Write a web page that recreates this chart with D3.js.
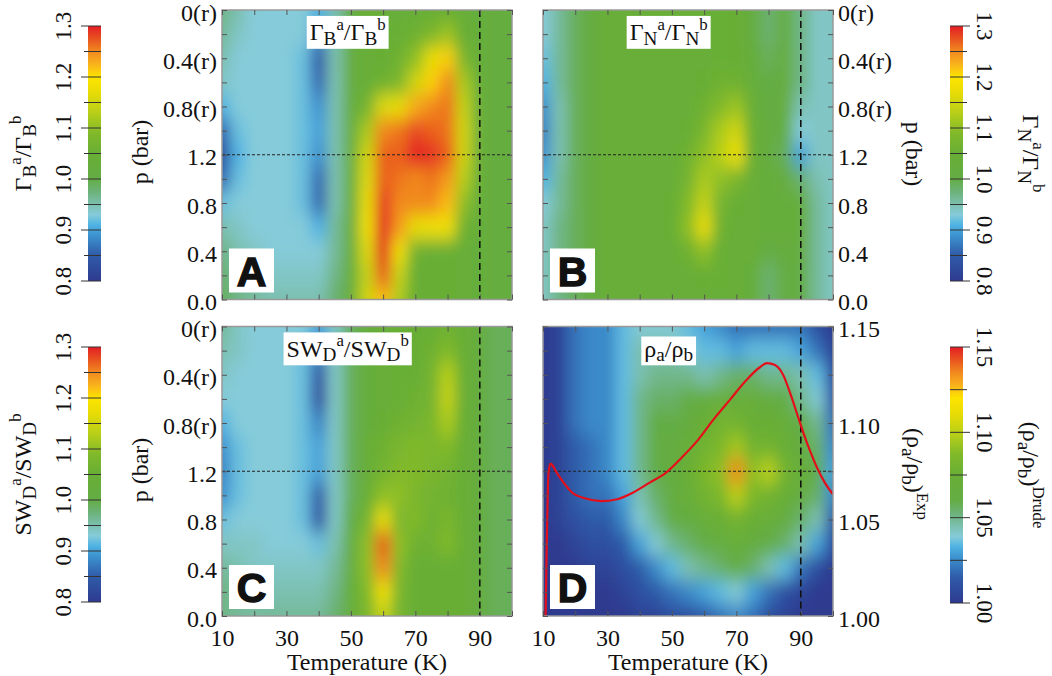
<!DOCTYPE html>
<html lang="en">
<head>
<meta charset="UTF-8">
<title>Ratio maps vs temperature and pressure</title>
<script src="https://d3js.org/d3.v7.min.js"></script>
<style>
  body { margin: 0; background: #fff; }
  svg { display: block; }
  text { font-family: "Liberation Serif", "Times New Roman", serif; fill: #111; }
</style>
</head>
<body>
<svg id="chart" width="1052" height="676"></svg>
<script>
// grid of the maps: temperature columns, pressure rows (top = 0(r), bottom = 0.0)
const temps = [10, 15, 20, 25, 30, 35, 40, 45, 50, 55, 60, 65, 70, 75, 80, 85, 90, 95, 100];
const pRows = [2.4, 2.2, 2.0, 1.8, 1.6, 1.4, 1.2, 1.0, 0.8, 0.6, 0.4, 0.2, 0.0];

const pTicksAll = [0, 0.2, 0.4, 0.6, 0.8, 1.0, 1.2, 1.4, 1.6, 1.8, 2.0, 2.2, 2.4];
const pTicks = [0, 0.4, 0.8, 1.2, 1.6, 2.0, 2.4];
const pTickLabels = ["0.0", "0.4", "0.8", "1.2", "0.8(r)", "0.4(r)", "0(r)"];
const tTicksAll = [10, 20, 30, 40, 50, 60, 70, 80, 90, 100];
const tTickLabels = [10, 30, 50, 70, 90];
const ratioTicks = [0.8, 0.85, 0.9, 0.95, 1.0, 1.05, 1.1, 1.15, 1.2, 1.25, 1.3];
const ratioLabels = ["0.8", "0.9", "1.0", "1.1", "1.2", "1.3"];
const rhoTicks = [1.0, 1.025, 1.05, 1.075, 1.1, 1.125, 1.15];
const rhoLabels = ["1.00", "1.05", "1.10", "1.15"];

// Γ_B^a / Γ_B^b
const gammaB = [
  [.97,.95,.93,.93,.93,.93,.91,.95,1.02,1.04,1.04,1.04,1.04,1.05,1.05,1.04,1.03,1.02,1.02],
  [.96,.94,.93,.93,.93,.93,.89,.95,1.02,1.04,1.04,1.05,1.06,1.08,1.11,1.05,1.03,1.02,1.02],
  [.95,.93,.93,.93,.93,.92,.85,.95,1.02,1.04,1.05,1.06,1.10,1.17,1.21,1.08,1.03,1.02,1.02],
  [.94,.93,.93,.93,.93,.92,.86,.95,1.02,1.04,1.06,1.08,1.15,1.21,1.25,1.12,1.03,1.02,1.02],
  [.91,.93,.93,.93,.93,.92,.89,.95,1.02,1.07,1.16,1.17,1.23,1.25,1.26,1.14,1.03,1.02,1.02],
  [.86,.92,.93,.93,.93,.92,.90,.95,1.02,1.12,1.25,1.26,1.28,1.27,1.26,1.15,1.03,1.02,1.02],
  [.83,.91,.93,.93,.93,.92,.89,.95,1.03,1.15,1.27,1.27,1.31,1.29,1.27,1.15,1.03,1.02,1.02],
  [.86,.92,.93,.93,.93,.92,.86,.95,1.03,1.16,1.27,1.26,1.25,1.26,1.24,1.13,1.03,1.02,1.02],
  [.92,.93,.93,.93,.93,.92,.86,.95,1.03,1.17,1.29,1.25,1.25,1.25,1.22,1.10,1.03,1.02,1.02],
  [.95,.94,.93,.93,.93,.93,.91,.96,1.03,1.18,1.31,1.24,1.17,1.18,1.18,1.06,1.03,1.02,1.02],
  [.97,.95,.94,.93,.93,.93,.93,.96,1.03,1.16,1.32,1.18,1.06,1.05,1.05,1.04,1.03,1.02,1.02],
  [.98,.96,.95,.94,.94,.94,.94,.97,1.03,1.14,1.27,1.14,1.05,1.05,1.05,1.04,1.03,1.02,1.02],
  [.99,.97,.96,.95,.95,.95,.95,.98,1.03,1.15,1.22,1.12,1.05,1.05,1.05,1.04,1.03,1.02,1.02]
];

// Γ_N^a / Γ_N^b
const gammaN = [
  [.93,.96,.99,1.02,1.04,1.04,1.04,1.04,1.04,1.04,1.04,1.05,1.05,1.02,.98,1.01,.97,.94,.94],
  [.93,.96,.99,1.02,1.04,1.04,1.04,1.04,1.04,1.04,1.04,1.05,1.05,1.02,.98,1.01,.97,.94,.94],
  [.92,.96,.99,1.02,1.04,1.04,1.04,1.04,1.04,1.04,1.04,1.05,1.05,1.03,.99,1.02,.97,.94,.94],
  [.91,.96,.99,1.02,1.04,1.04,1.04,1.04,1.04,1.04,1.05,1.06,1.06,1.03,1.00,1.02,.97,.94,.94],
  [.89,.95,.99,1.02,1.04,1.04,1.04,1.04,1.04,1.04,1.06,1.09,1.11,1.04,1.01,1.02,.95,.94,.94],
  [.88,.95,.99,1.02,1.04,1.04,1.04,1.04,1.04,1.05,1.08,1.12,1.15,1.05,1.02,1.00,.93,.94,.94],
  [.89,.95,.99,1.02,1.04,1.04,1.04,1.04,1.04,1.06,1.10,1.13,1.18,1.05,1.02,.99,.90,.94,.94],
  [.91,.96,.99,1.02,1.04,1.04,1.04,1.04,1.04,1.07,1.12,1.10,1.08,1.04,1.03,1.02,.98,.95,.94],
  [.93,.96,.99,1.02,1.04,1.04,1.04,1.04,1.05,1.09,1.14,1.07,1.05,1.04,1.03,1.03,1.03,.96,.94],
  [.94,.97,.99,1.02,1.04,1.04,1.04,1.04,1.05,1.10,1.17,1.06,1.04,1.04,1.03,1.03,1.03,.96,.94],
  [.94,.97,.99,1.02,1.04,1.04,1.04,1.04,1.04,1.06,1.10,1.05,1.04,1.04,1.01,1.02,1.02,.96,.94],
  [.94,.97,.99,1.02,1.04,1.04,1.04,1.04,1.04,1.04,1.05,1.05,1.04,1.03,.98,1.01,1.01,.96,.94],
  [.94,.97,.99,1.02,1.04,1.04,1.04,1.04,1.04,1.04,1.04,1.04,1.04,1.03,.98,1.01,1.01,.96,.94]
];

// SW_D^a / SW_D^b
const swD = [
  [.96,.94,.93,.93,.93,.93,.90,.94,.99,1.03,1.04,1.05,1.05,1.05,1.06,1.05,1.02,.99,.99],
  [.95,.94,.93,.93,.93,.92,.88,.94,.99,1.03,1.04,1.05,1.05,1.06,1.09,1.05,1.02,.99,.99],
  [.94,.93,.93,.93,.93,.92,.84,.94,.99,1.03,1.04,1.05,1.05,1.07,1.13,1.05,1.02,.99,.99],
  [.93,.93,.93,.93,.93,.92,.83,.94,.99,1.03,1.04,1.05,1.06,1.07,1.14,1.05,1.02,.99,.99],
  [.91,.93,.93,.93,.93,.92,.88,.94,.99,1.03,1.05,1.06,1.07,1.08,1.12,1.05,1.02,.99,.99],
  [.89,.92,.93,.93,.93,.92,.90,.94,.99,1.04,1.06,1.08,1.09,1.08,1.09,1.05,1.02,.99,.99],
  [.88,.92,.93,.93,.93,.92,.90,.94,.99,1.04,1.07,1.09,1.09,1.08,1.07,1.05,1.02,.99,.99],
  [.89,.92,.93,.93,.93,.92,.85,.94,.99,1.05,1.10,1.10,1.08,1.07,1.06,1.05,1.02,.99,.99],
  [.92,.93,.93,.93,.93,.92,.84,.94,1.00,1.07,1.17,1.08,1.09,1.06,1.08,1.05,1.02,.99,.99],
  [.94,.94,.94,.93,.93,.93,.92,.95,1.01,1.10,1.27,1.10,1.06,1.06,1.09,1.05,1.02,.99,.99],
  [.96,.95,.94,.94,.94,.94,.94,.96,1.02,1.10,1.25,1.09,1.05,1.05,1.05,1.05,1.02,.99,.99],
  [.97,.96,.95,.95,.95,.95,.95,.97,1.03,1.09,1.18,1.08,1.05,1.05,1.05,1.05,1.02,.99,.99],
  [.97,.96,.96,.96,.96,.96,.96,.98,1.03,1.08,1.14,1.07,1.05,1.05,1.05,1.05,1.02,.99,.99]
];

// (ρ_a/ρ_b)^Drude
const rhoDrude = [
  [1.00,1.005,1.02,1.025,1.025,1.035,1.04,1.04,1.04,1.035,1.03,1.025,1.02,1.02,1.02,1.02,1.02,1.01,1.00],
  [1.00,1.005,1.02,1.025,1.025,1.035,1.045,1.045,1.045,1.04,1.035,1.035,1.03,1.035,1.035,1.035,1.03,1.02,1.005],
  [1.00,1.005,1.02,1.025,1.025,1.035,1.045,1.05,1.05,1.05,1.045,1.05,1.055,1.055,1.05,1.05,1.045,1.035,1.01],
  [1.00,1.005,1.02,1.025,1.025,1.035,1.05,1.055,1.055,1.06,1.065,1.07,1.07,1.07,1.065,1.06,1.05,1.04,1.015],
  [1.00,1.005,1.02,1.025,1.025,1.035,1.05,1.06,1.06,1.065,1.075,1.08,1.08,1.075,1.075,1.07,1.06,1.05,1.02],
  [1.00,1.005,1.015,1.02,1.025,1.035,1.05,1.06,1.065,1.07,1.08,1.085,1.095,1.08,1.08,1.075,1.065,1.055,1.025],
  [1.00,1.005,1.015,1.02,1.025,1.035,1.05,1.06,1.065,1.075,1.085,1.09,1.135,1.09,1.10,1.08,1.07,1.06,1.03],
  [1.00,1.005,1.015,1.02,1.02,1.03,1.045,1.055,1.065,1.07,1.08,1.085,1.10,1.085,1.08,1.075,1.065,1.055,1.025],
  [1.00,1.005,1.01,1.015,1.015,1.025,1.04,1.05,1.06,1.065,1.07,1.075,1.08,1.075,1.07,1.065,1.055,1.045,1.015],
  [1.00,1.00,1.005,1.01,1.01,1.015,1.03,1.04,1.05,1.055,1.06,1.065,1.07,1.065,1.06,1.055,1.045,1.03,1.01],
  [1.00,1.00,1.00,1.005,1.005,1.01,1.015,1.025,1.035,1.045,1.05,1.055,1.06,1.055,1.045,1.035,1.02,1.01,1.00],
  [1.00,1.00,1.00,1.00,1.00,1.005,1.01,1.015,1.02,1.025,1.03,1.035,1.04,1.03,1.02,1.01,1.005,1.00,1.00],
  [1.00,1.00,1.00,1.00,1.00,1.00,1.005,1.005,1.01,1.01,1.015,1.02,1.025,1.02,1.01,1.005,1.00,1.00,1.00]
];

// measured (ρ_a/ρ_b)^Exp vs temperature (red line in D)
const rhoExpT = [10.8, 11.2, 11.7, 12.3, 13, 14, 16, 19, 23, 28, 33, 38, 43, 48, 53, 58, 63, 68, 73, 77, 79.5, 82, 84.5, 87, 89, 91, 93, 95, 97.5, 100];
const rhoExpV = [1.000, 1.040, 1.074, 1.079, 1.078, 1.075, 1.070, 1.064, 1.061, 1.0595, 1.0605, 1.064, 1.069, 1.074, 1.082, 1.091, 1.102, 1.112, 1.122, 1.1285, 1.131, 1.130, 1.125, 1.114, 1.104, 1.094, 1.085, 1.077, 1.069, 1.063];

// rainbow colour map (fraction of range -> colour)
const cmapStops = [0, 0.1, 0.18, 0.22, 0.26, 0.30, 0.35, 0.40, 0.50, 0.58, 0.66, 0.74, 0.80, 0.85, 0.90, 0.95, 1.0];
const cmapColors = ["#2e3a8f", "#2f5ba8", "#3d93d0", "#4fb3e3", "#85cbd9", "#7cc0b0", "#6cb27a", "#64ad45",
                    "#68ae35", "#80b92a", "#b8cf18", "#e8dc06", "#fde400", "#f9b21c", "#f18a1f", "#e8531f", "#e31d24"];

const W = 290, H = 289.5;
const svg = d3.select("#chart");
const defs = svg.append("defs");

const cmap = (lo, hi) => d3.scaleLinear()
  .domain(cmapStops.map(s => lo + s * (hi - lo)))
  .range(cmapColors)
  .clamp(true);

defs.append("filter").attr("id", "soft")
  .attr("x", "-10%").attr("y", "-10%").attr("width", "120%").attr("height", "120%")
  .append("feGaussianBlur").attr("stdDeviation", "6.5 9");

const grad = defs.append("linearGradient").attr("id", "cbar")
  .attr("x1", 0).attr("y1", 1).attr("x2", 0).attr("y2", 0);
cmapStops.forEach((s, i) => grad.append("stop").attr("offset", s).attr("stop-color", cmapColors[i]));

// text with sub/superscripts: segs = [[str, "sub"|"sup"|undefined], ...]
function rich(parent, segs, size) {
  const t = parent.append("text").attr("font-size", size);
  let shift = 0;
  segs.forEach(([s, kind]) => {
    const target = kind === "sub" ? 0.2 * size : kind === "sup" ? -0.42 * size : 0;
    t.append("tspan")
      .attr("dy", target - shift)
      .attr("font-size", kind === "sub" ? size * 0.8 : kind === "sup" ? size * 0.7 : size)
      .text(s);
    shift = target;
  });
  return t;
}

function rotLabel(segs, cx, cy, angle, size) {
  const g = svg.append("g").attr("transform", `translate(${cx},${cy}) rotate(${angle})`);
  rich(g, segs, size).attr("text-anchor", "middle").attr("y", size * 0.33);
}

function styleAxis(sel) {
  sel.select(".domain").remove();
  sel.attr("font-family", "Liberation Serif, serif").attr("font-size", 24);
  sel.selectAll("line").attr("stroke", "#555").attr("stroke-width", 1);
  sel.selectAll("text").attr("fill", "#111");
}

function drawPanel(cfg) {
  const x = d3.scaleLinear().domain([10, 100]).range([cfg.x, cfg.x + W]);
  const y = d3.scaleLinear().domain([0, 2.4]).range([cfg.y + H, cfg.y]);
  const color = cmap(cfg.domain[0], cfg.domain[1]);
  const clipId = "clip" + cfg.key;
  defs.append("clipPath").attr("id", clipId).append("rect")
    .attr("x", cfg.x).attr("y", cfg.y).attr("width", W).attr("height", H);

  const xs = temps.map(x), ys = pRows.map(y);
  const nc = xs.length, nr = ys.length;
  const cells = [];
  cfg.data.forEach((row, r) => row.forEach((v, c) => {
    cells.push({
      x0: c === 0 ? xs[0] - 30 : (xs[c - 1] + xs[c]) / 2,
      x1: c === nc - 1 ? xs[nc - 1] + 30 : (xs[c] + xs[c + 1]) / 2,
      y0: r === 0 ? ys[0] - 30 : (ys[r - 1] + ys[r]) / 2,
      y1: r === nr - 1 ? ys[nr - 1] + 30 : (ys[r] + ys[r + 1]) / 2,
      v
    });
  }));

  const clipped = svg.append("g").attr("clip-path", `url(#${clipId})`);
  clipped.append("g").attr("filter", "url(#soft)")
    .selectAll("rect").data(cells).join("rect")
    .attr("x", d => d.x0).attr("y", d => d.y0)
    .attr("width", d => d.x1 - d.x0 + 0.6).attr("height", d => d.y1 - d.y0 + 0.6)
    .attr("fill", d => color(d.v));

  // dashed guides: T = 90 K and p = 1.2 bar
  clipped.append("line")
    .attr("x1", cfg.x).attr("x2", cfg.x + W).attr("y1", y(1.2)).attr("y2", y(1.2))
    .attr("stroke", "#222").attr("stroke-width", 1).attr("stroke-dasharray", "3,2");
  clipped.append("line")
    .attr("x1", x(90)).attr("x2", x(90)).attr("y1", cfg.y).attr("y2", cfg.y + H)
    .attr("stroke", "#111").attr("stroke-width", 1.6).attr("stroke-dasharray", "7,4");

  let yr = null;
  if (cfg.expLine) {
    yr = d3.scaleLinear().domain([1.0, 1.15]).range([cfg.y + H, cfg.y]);
    const line = d3.line()
      .x((d, i) => x(rhoExpT[i]))
      .y(d => yr(d))
      .curve(d3.curveMonotoneX);
    clipped.append("path").datum(rhoExpV)
      .attr("d", line).attr("fill", "none")
      .attr("stroke", "#e3101b").attr("stroke-width", 2.2);
  }

  // frame
  svg.append("rect").attr("x", cfg.x).attr("y", cfg.y).attr("width", W).attr("height", H)
    .attr("fill", "none").attr("stroke", "#999").attr("stroke-width", 1.5);

  // axes (ticks point inward)
  const pFmt = d => { const i = pTicks.indexOf(d); return i >= 0 ? pTickLabels[i] : ""; };
  svg.append("g").attr("transform", `translate(0,${cfg.y + H})`)
    .call(d3.axisBottom(x).tickValues(tTicksAll).tickSizeInner(-5).tickSizeOuter(0).tickPadding(13)
      .tickFormat(d => cfg.bottomLabels && tTickLabels.includes(d) ? d : ""))
    .call(styleAxis);
  svg.append("g").attr("transform", `translate(0,${cfg.y})`)
    .call(d3.axisTop(x).tickValues(tTicksAll).tickSizeInner(-5).tickSizeOuter(0).tickFormat(""))
    .call(styleAxis);
  svg.append("g").attr("transform", `translate(${cfg.x},0)`)
    .call(d3.axisLeft(y).tickValues(pTicksAll).tickSizeInner(-5).tickSizeOuter(0).tickPadding(5)
      .tickFormat(d => cfg.leftLabels ? pFmt(d) : ""))
    .call(styleAxis)
    .call(s => s.selectAll("text").attr("dy", "0.42em"));
  if (yr) {
    svg.append("g").attr("transform", `translate(${cfg.x + W},0)`)
      .call(d3.axisRight(yr).tickValues(rhoTicks).tickSizeInner(-5).tickSizeOuter(0).tickPadding(5)
        .tickFormat(d => { const s = d3.format(".2f")(d); return rhoLabels.includes(s) ? s : ""; }))
      .call(styleAxis)
      .call(s => s.selectAll("text").attr("dy", "0.42em"));
  } else {
    svg.append("g").attr("transform", `translate(${cfg.x + W},0)`)
      .call(d3.axisRight(y).tickValues(pTicksAll).tickSizeInner(-5).tickSizeOuter(0).tickPadding(5)
        .tickFormat(d => cfg.rightLabels ? pFmt(d) : ""))
      .call(styleAxis)
      .call(s => s.selectAll("text").attr("dy", "0.42em"));
  }

  // title in white box
  const tg = svg.append("g");
  const tt = rich(tg, cfg.title, 24).attr("text-anchor", "middle")
    .attr("x", x(49)).attr("y", cfg.y + 30);
  const bb = tt.node().getBBox();
  tg.insert("rect", "text").attr("x", bb.x - 3).attr("y", bb.y + 1)
    .attr("width", bb.width + 6).attr("height", bb.height - 1).attr("fill", "#fff");

  // panel letter
  const lx = cfg.x + 7, ly = cfg.y + H - 51;
  svg.append("rect").attr("x", lx).attr("y", ly).attr("width", 45).attr("height", 44).attr("fill", "#fff");
  svg.append("text").attr("x", lx + 22.5).attr("y", ly + 37)
    .attr("text-anchor", "middle")
    .style("font-family", "'Liberation Sans', Arial, sans-serif")
    .attr("font-weight", 700).attr("font-size", 41)
    .attr("stroke", "#111").attr("stroke-width", 1.4)
    .text(cfg.key);
}

function drawBar(cfg) {
  const s = d3.scaleLinear().domain(cfg.domain).range([cfg.y1, cfg.y0]);
  svg.append("rect").attr("x", cfg.x).attr("y", cfg.y0).attr("width", 13).attr("height", cfg.y1 - cfg.y0)
    .attr("fill", "url(#cbar)");
  const left = cfg.side === "left";
  svg.append("g").selectAll("line").data(cfg.ticks).join("line")
    .attr("x1", (d, i) => left ? cfg.x - (i % 2 === 0 ? 7 : 4) : cfg.x)
    .attr("x2", (d, i) => left ? cfg.x + 13 : cfg.x + 13 + (i % 2 === 0 ? 7 : 4))
    .attr("y1", d => s(d)).attr("y2", d => s(d))
    .attr("stroke", "#333").attr("stroke-width", 1);
  cfg.labels.forEach(lab => {
    const g = svg.append("g")
      .attr("transform", `translate(${cfg.labelX},${s(+lab)}) rotate(${left ? -90 : 90})`);
    g.append("text").attr("text-anchor", "middle").attr("y", 23 * 0.34)
      .attr("font-size", 23).text(lab);
  });
  rotLabel(cfg.title, cfg.titleX, (cfg.y0 + cfg.y1) / 2, left ? -90 : 90, 24);
}

const panels = [
  { key: "A", x: 222, y: 10, data: gammaB, domain: [0.8, 1.3], leftLabels: true,
    title: [["Γ"], ["B", "sub"], ["a", "sup"], ["/Γ"], ["B", "sub"], ["b", "sup"]] },
  { key: "B", x: 543, y: 10, data: gammaN, domain: [0.8, 1.3], rightLabels: true,
    title: [["Γ"], ["N", "sub"], ["a", "sup"], ["/Γ"], ["N", "sub"], ["b", "sup"]] },
  { key: "C", x: 222, y: 326.5, data: swD, domain: [0.8, 1.3], leftLabels: true, bottomLabels: true,
    title: [["SW"], ["D", "sub"], ["a", "sup"], ["/SW"], ["D", "sub"], ["b", "sup"]] },
  { key: "D", x: 543, y: 326.5, data: rhoDrude, domain: [1.0, 1.15], bottomLabels: true, expLine: true,
    title: [["ρ"], ["a", "sub"], ["/ρ"], ["b", "sub"]] }
];
panels.forEach(drawPanel);

drawBar({ side: "left", x: 88, y0: 26, y1: 281, domain: [0.8, 1.3], ticks: ratioTicks, labels: ratioLabels,
  labelX: 63, titleX: 23, title: [["Γ"], ["B", "sub"], ["a", "sup"], ["/Γ"], ["B", "sub"], ["b", "sup"]] });
drawBar({ side: "left", x: 88, y0: 347, y1: 602, domain: [0.8, 1.3], ticks: ratioTicks, labels: ratioLabels,
  labelX: 63, titleX: 23, title: [["SW"], ["D", "sub"], ["a", "sup"], ["/SW"], ["D", "sub"], ["b", "sup"]] });
drawBar({ side: "right", x: 950, y0: 26, y1: 281, domain: [0.8, 1.3], ticks: ratioTicks, labels: ratioLabels,
  labelX: 985, titleX: 1031, title: [["Γ"], ["N", "sub"], ["a", "sup"], ["/Γ"], ["N", "sub"], ["b", "sup"]] });
drawBar({ side: "right", x: 950, y0: 347, y1: 603, domain: [1.0, 1.15], ticks: rhoTicks, labels: rhoLabels,
  labelX: 985, titleX: 1031, title: [["(ρ"], ["a", "sub"], ["/ρ"], ["b", "sub"], [")"], ["Drude", "sup"]] });

// axis titles
rotLabel([["p (bar)"]], 140, 152, -90, 24);
rotLabel([["p (bar)"]], 140, 470, -90, 24);
rotLabel([["p (bar)"]], 914, 154, 90, 24);
rotLabel([["(ρ"], ["a", "sub"], ["/ρ"], ["b", "sub"], [")"], ["Exp", "sup"]], 915, 474, 90, 24);
[367, 688].forEach(cx => {
  svg.append("text").attr("x", cx).attr("y", 670).attr("text-anchor", "middle")
    .attr("font-size", 24).text("Temperature (K)");
});
</script>
</body>
</html>
